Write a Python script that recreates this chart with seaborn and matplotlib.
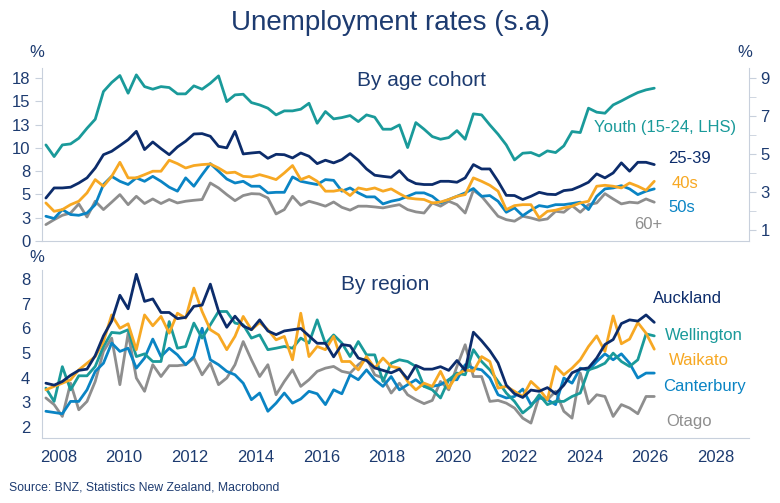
import numpy as np
import pandas as pd
import matplotlib
matplotlib.use("Agg")
import matplotlib.pyplot as plt
import seaborn as sns

# quarterly dates
dates = 2007.625 + 0.25 * np.arange(75)

# pixel readings (zoom coords) converted below
youth_px = [315, 350, 315, 312, 295, 265, 238, 155, 128, 107, 160, 105, 140, 148, 140, 143, 162, 162, 138, 148,
            130, 108, 185, 165, 163, 188, 195, 205, 225, 213, 213, 208, 190, 250, 215, 237, 233, 227, 245, 225,
            232, 268, 268, 255, 323, 248, 268, 290, 298, 293, 272, 298, 222, 225, 255, 283, 315, 360, 340, 338,
            348, 333, 338, 318, 275, 278, 205, 217, 220, 195, 183, 170, 158, 150, 145]
c2539_px = [475, 445, 445, 443, 430, 415, 385, 345, 335, 318, 300, 275, 330, 307, 327, 345, 322, 305, 283, 282,
            290, 320, 325, 275, 343, 340, 338, 356, 344, 345, 355, 340, 350, 372, 362, 370, 360, 342, 362, 388,
            407, 410, 413, 393, 420, 432, 435, 435, 425, 425, 428, 415, 375, 388, 388, 425, 467, 468, 480, 470,
            458, 464, 465, 453, 450, 440, 428, 403, 415, 400, 370, 395, 368, 368, 375]
c40_px = [490, 515, 510, 495, 485, 460, 420, 440, 410, 368, 415, 415, 405, 395, 395, 362, 372, 385, 378, 375,
          373, 385, 400, 398, 410, 412, 405, 412, 420, 400, 378, 420, 410, 425, 455, 455, 450, 468, 445, 450,
          445, 455, 448, 462, 475, 478, 480, 490, 487, 480, 470, 465, 415, 425, 437, 455, 510, 498, 495, 495,
          535, 515, 512, 505, 500, 490, 485, 440, 437, 440, 445, 430, 440, 452, 425]
c50_px = [530, 537, 510, 525, 527, 520, 495, 435, 410, 425, 435, 415, 425, 410, 425, 443, 455, 415, 440, 405,
          372, 395, 418, 430, 425, 440, 440, 460, 458, 458, 412, 425, 430, 435, 420, 422, 455, 445, 460, 472,
          472, 493, 485, 480, 470, 460, 460, 470, 490, 480, 470, 460, 447, 470, 468, 485, 518, 505, 528, 512,
          498, 502, 495, 495, 492, 488, 510, 470, 448, 445, 438, 448, 465, 455, 448]
c60_px = [555, 540, 527, 520, 493, 532, 485, 510, 488, 465, 495, 470, 492, 478, 492, 480, 490, 485, 482, 480,
          430, 445, 465, 483, 468, 462, 463, 475, 523, 510, 470, 497, 485, 492, 500, 487, 503, 512, 500, 500,
          502, 505, 500, 495, 510, 517, 520, 490, 500, 485, 495, 520, 452, 470, 500, 530, 540, 545, 530, 535,
          542, 538, 515, 518, 498, 518, 495, 490, 462, 478, 493, 488, 490, 478, 488]

# Auckland read directly in %
akl = [3.78, 3.7, 3.85, 4.1, 4.3, 4.35, 4.9, 5.7, 6.3, 7.35, 6.8, 8.2, 7.1, 7.2, 6.65, 6.65, 6.4, 6.45, 6.9, 6.95,
       7.8, 6.7, 6.05, 6.5, 6.1, 5.95, 6.35, 5.9, 5.75, 5.9, 5.95, 6.0, 5.7, 5.4, 5.4, 4.85, 5.35, 5.3, 4.8, 4.7,
       4.4, 4.3, 4.2, 4.35, 3.95, 4.5, 4.35, 4.35, 4.45, 4.3, 4.7, 4.3, 5.85, 5.5, 5.1, 4.6, 3.7, 3.35, 3.2, 3.5,
       3.45, 3.6, 3.35, 3.7, 4.2, 4.35, 4.4, 4.8, 5.35, 5.55, 6.2, 6.35, 6.3, 6.55, 6.25]
wai_px = [420, 410, 400, 390, 360, 340, 320, 275, 195, 235, 222, 300, 195, 228, 200, 250, 190, 205, 115, 185,
          240, 255, 300, 260, 200, 240, 218, 240, 270, 260, 330, 190, 320, 290, 300, 260, 335, 335, 360, 320,
          355, 325, 350, 355, 395, 420, 400, 410, 365, 415, 375, 360, 365, 320, 335, 415, 410, 425, 440, 395,
          418, 450, 350, 375, 355, 330, 290, 258, 305, 198, 282, 268, 218, 250, 298]
wel_px = [415, 455, 351, 420, 378, 378, 350, 290, 248, 250, 240, 320, 312, 335, 335, 215, 295, 290, 220, 265,
          225, 185, 185, 220, 225, 265, 255, 300, 295, 290, 295, 265, 280, 210, 282, 255, 280, 320, 275, 315,
          315, 395, 340, 330, 335, 350, 410, 420, 445, 390, 370, 375, 300, 335, 360, 395, 430, 455, 490, 470,
          435, 465, 455, 455, 440, 430, 360, 352, 340, 310, 335, 350, 330, 252, 258]
can_px = [485, 488, 492, 455, 455, 420, 365, 340, 280, 305, 295, 355, 325, 268, 320, 295, 315, 345, 320, 235,
          330, 345, 365, 375, 400, 450, 430, 485, 460, 430, 460, 448, 425, 432, 465, 420, 432, 375, 390, 360,
          390, 410, 380, 420, 405, 390, 410, 410, 405, 390, 390, 345, 355, 360, 385, 435, 445, 440, 418, 465,
          445, 450, 465, 385, 400, 355, 362, 335, 312, 330, 312, 340, 385, 370, 370]
ota_px = [445, 465, 500, 400, 480, 455, 395, 305, 265, 405, 250, 385, 425, 345, 380, 348, 348, 345, 325, 375,
          340, 405, 385, 345, 275, 330, 380, 345, 435, 395, 360, 410, 390, 365, 355, 350, 365, 370, 345, 325,
          375, 385, 430, 400, 435, 450, 462, 452, 395, 420, 350, 285, 380, 380, 455, 452, 460, 475, 505, 520,
          440, 450, 425, 485, 505, 370, 462, 435, 440, 500, 465, 475, 492, 440, 440]

youth = np.round((603 - np.array(youth_px)) / 27.9, 2)
def rhs(p):
    return np.round(9 - (np.array(p) - 115) / 57, 2)
def reg(p):
    return np.round(8 - (np.array(p) - 88) / 74, 2)

navy = "#0c2c6b"
teal = "#1a9a9a"
orange = "#f7a823"
blue = "#0a84c4"
grey = "#8e8e8e"
txt = "#1d3b70"
axc = "#c8d0dc"

sns.set_style("white")
plt.rcParams['font.family'] = ['Liberation Sans', 'DejaVu Sans']

fig = plt.figure(figsize=(7.8, 5.03), dpi=100)
ax1 = fig.add_axes([0.054, 0.521, 0.906, 0.344])
ax2 = fig.add_axes([0.054, 0.129, 0.906, 0.334])
ax1r = ax1.twinx()

lw = 2
sns.lineplot(x=dates, y=youth, ax=ax1, color=teal, lw=lw)
for vals, c in [(c60_px, grey), (c50_px, blue), (c40_px, orange), (c2539_px, navy)]:
    sns.lineplot(x=dates, y=rhs(vals), ax=ax1r, color=c, lw=lw)
for vals, c in [(reg(ota_px), grey), (reg(can_px), blue), (reg(wel_px), teal), (reg(wai_px), orange),
                (np.array(akl), navy)]:
    sns.lineplot(x=dates, y=vals, ax=ax2, color=c, lw=lw)

for a in (ax1, ax2):
    a.set_xlim(2007.51, 2029.0)
    a.set_xticks(range(2008, 2030, 2))
    for s in a.spines.values():
        s.set_color(axc)
    a.spines['top'].set_visible(False)
    a.spines['right'].set_visible(False)
    a.tick_params(axis='both', colors=axc, labelcolor=txt, labelsize=12, length=5, direction='out')

ax1.set_ylim(0, 18.6)
ax1.set_yticks(np.arange(0, 18, 2.5))
ax1.set_yticklabels([str(int(v + 0.5)) for v in np.arange(0, 18, 2.5)])
ax1.tick_params(axis='x', labelbottom=False, length=0)
ax1r.set_ylim(0.42, 9.53)
ax1r.set_yticks([1, 3, 5, 7, 9])
ax1r.set_yticks([2, 4, 6, 8], minor=True)
ax1r.tick_params(axis='y', which='both', colors=axc, labelcolor=txt, labelsize=12, length=5)
for s in ['top', 'left', 'bottom']:
    ax1r.spines[s].set_visible(False)
ax1r.spines['right'].set_color(axc)

ax2.set_ylim(1.55, 8.37)
ax2.set_yticks(range(2, 9))

fig.text(0.5, 0.955, "Unemployment rates (s.a)", ha='center', va='center', color=txt, fontsize=20)
fig.text(0.038, 0.895, "%", color=txt, fontsize=12, ha='left', va='center')
fig.text(0.945, 0.895, "%", color=txt, fontsize=12, ha='left', va='center')
fig.text(0.038, 0.488, "%", color=txt, fontsize=12, ha='left', va='center')
fig.text(0.54, 0.84, "By age cohort", color=txt, fontsize=15, ha='center', va='center')
fig.text(0.494, 0.435, "By region", color=txt, fontsize=15, ha='center', va='center')
fig.text(0.012, 0.03, "Source: BNZ, Statistics New Zealand, Macrobond", color=txt, fontsize=8.8, va='center')

ax1r.text(2024.3, 6.37, "Youth (15-24, LHS)", color=teal, fontsize=12, va='center')
ax1r.text(2026.55, 4.74, "25-39", color=navy, fontsize=12, va='center')
ax1r.text(2026.65, 3.42, "40s", color=orange, fontsize=12, va='center')
ax1r.text(2026.55, 2.2, "50s", color=blue, fontsize=12, va='center')
ax1r.text(2025.5, 1.26, "60+", color=grey, fontsize=12, va='center')

ax2.text(2026.1, 7.23, "Auckland", color=navy, fontsize=12, va='center')
ax2.text(2026.45, 5.73, "Wellington", color=teal, fontsize=12, va='center')
ax2.text(2026.57, 4.72, "Waikato", color=orange, fontsize=12, va='center')
ax2.text(2026.4, 3.63, "Canterbury", color=blue, fontsize=12, va='center')
ax2.text(2026.5, 2.21, "Otago", color=grey, fontsize=12, va='center')

fig.savefig("out.png", dpi=100)
